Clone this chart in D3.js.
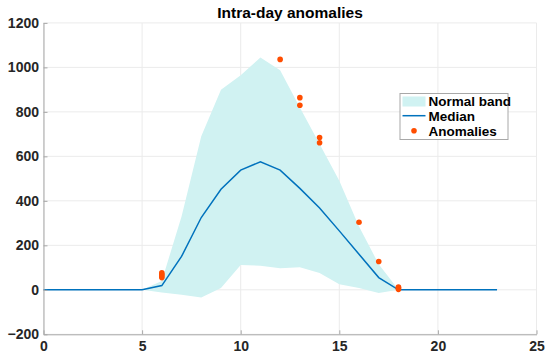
<!DOCTYPE html>
<html>
<head>
<meta charset="utf-8">
<script src="https://cdnjs.cloudflare.com/ajax/libs/d3/7.8.5/d3.min.js"></script>
<style>
  body { margin: 0; background: #fff; }
  svg text { font-family: "Liberation Sans", Arial, sans-serif; }
</style>
</head>
<body>
<div id="canvas"></div>
<script>
const w = 550;
const h = 359;

// median curve, hour 0..23
const hours = d3.range(0, 24);
const median = [0,0,0,0,0,0,19,150,325,452,538,576,538,456,368,265,160,55,0,0,0,0,0,0];

// normal band, hour 5..18
const bandHours = [5,6,7,8,9,10,11,12,13,14,15,16,17,18];
const bandUpper = [0,40,330,690,900,965,1044,987,820,655,490,285,115,0];
const bandLower = [0,-12,-22,-35,8,112,108,97,102,76,25,8,-14,0];

// flagged anomalies
const anomHours = [6,6,6,6,12,13,13,14,14,16,17,18,18,18];
const anomValues = [55,62,69,76,1036,864,830,685,661,304,127,2,8,12];

const xTicks = [0,5,10,15,20,25];
const yTicks = [-200,0,200,400,600,800,1000,1200];
const legendLabels = ["Normal band", "Median", "Anomalies"];

const margin = { top: 22.9, right: 13.5, bottom: 24.7, left: 43.5 };

const svg = d3.select("#canvas")
  .append("svg")
  .attr("width", w)
  .attr("height", h);

const x = d3.scaleLinear().domain([0, 25]).range([margin.left, w - margin.right]);
const y = d3.scaleLinear().domain([-200, 1200]).range([h - margin.bottom, margin.top]);

// grid
const grid = svg.append("g").attr("class", "grid");
grid.selectAll("line.gx")
  .data(xTicks)
  .enter().append("line")
  .attr("x1", d => x(d)).attr("x2", d => x(d))
  .attr("y1", y(-200)).attr("y2", y(1200))
  .attr("stroke", "#ebebeb").attr("stroke-width", 1);
grid.selectAll("line.gy")
  .data(yTicks)
  .enter().append("line")
  .attr("x1", x(0)).attr("x2", x(25))
  .attr("y1", d => y(d)).attr("y2", d => y(d))
  .attr("stroke", "#ebebeb").attr("stroke-width", 1);

// band
const bandData = bandHours.map((hr, i) => ({ hr: hr, lo: bandLower[i], hi: bandUpper[i] }));
const area = d3.area()
  .x(d => x(d.hr))
  .y0(d => y(d.lo))
  .y1(d => y(d.hi));
svg.append("path")
  .datum(bandData)
  .attr("d", area)
  .attr("fill", "#d0f2f2");

// median
const line = d3.line()
  .x((d, i) => x(hours[i]))
  .y(d => y(d));
svg.append("path")
  .datum(median)
  .attr("d", line)
  .attr("fill", "none")
  .attr("stroke", "#0072bd")
  .attr("stroke-width", 1.5);

// anomalies
svg.append("g")
  .selectAll("circle")
  .data(anomValues)
  .enter().append("circle")
  .attr("cx", (d, i) => x(anomHours[i]))
  .attr("cy", d => y(d))
  .attr("r", 2.8)
  .attr("fill", "#ff4d00");

// axes
const xAxis = svg.append("g")
  .attr("transform", "translate(0," + y(-200) + ")")
  .call(d3.axisBottom(x).tickValues(xTicks).tickSizeInner(-4).tickSizeOuter(0).tickPadding(7));
const yAxis = svg.append("g")
  .attr("transform", "translate(" + x(0) + ",0)")
  .call(d3.axisLeft(y).tickValues(yTicks).tickSizeInner(-4).tickSizeOuter(0).tickPadding(4.5)
    .tickFormat(d => d < 0 ? "\u2212" + Math.abs(d) : d));

[xAxis, yAxis].forEach(a => {
  a.select(".domain").attr("stroke", "#a8a8a8");
  a.selectAll(".tick line").attr("stroke", "#a8a8a8");
  a.selectAll(".tick text")
    .attr("fill", "#262626")
    .style("font-size", "14px")
    .style("font-weight", "bold")
    .style("font-family", "'Liberation Sans', Arial, sans-serif");
});

// title
svg.append("text")
  .attr("x", (x(0) + x(25)) / 2)
  .attr("y", 17.5)
  .attr("text-anchor", "middle")
  .style("font-size", "15.5px")
  .style("font-weight", "bold")
  .attr("fill", "#000")
  .text("Intra-day anomalies");

// legend
const lg = svg.append("g").attr("transform", "translate(400,93.5)");
lg.append("rect")
  .attr("width", 108).attr("height", 46)
  .attr("fill", "#fff").attr("stroke", "#a8a8a8").attr("stroke-width", 1);
lg.append("rect")
  .attr("x", 2.5).attr("y", 3).attr("width", 23).attr("height", 10)
  .attr("fill", "#d0f2f2");
lg.append("line")
  .attr("x1", 2.5).attr("x2", 25.5).attr("y1", 22.2).attr("y2", 22.2)
  .attr("stroke", "#0072bd").attr("stroke-width", 1.5);
lg.append("circle")
  .attr("cx", 14).attr("cy", 37.2).attr("r", 2.8)
  .attr("fill", "#ff4d00");
lg.selectAll("text.lab")
  .data(legendLabels)
  .enter().append("text")
  .attr("x", 28.5)
  .attr("y", (d, i) => 12.5 + i * 14.8)
  .style("font-size", "13.5px")
  .style("font-weight", "bold")
  .attr("fill", "#000")
  .text(d => d);
</script>
</body>
</html>
